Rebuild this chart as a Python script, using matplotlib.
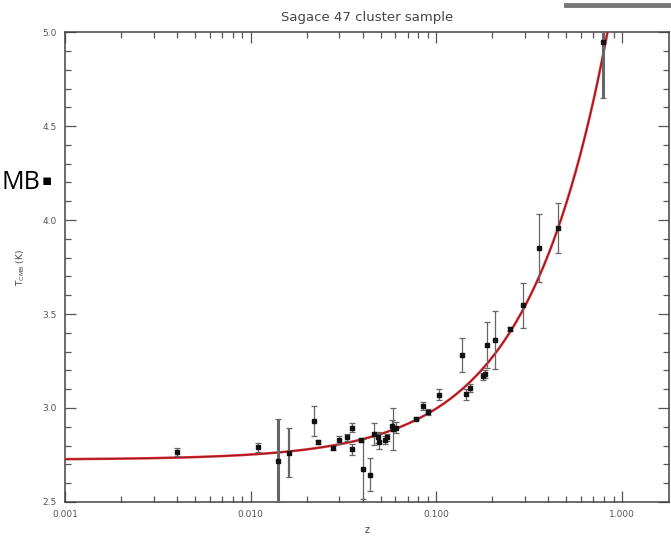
import numpy as np
import matplotlib.pyplot as plt
from matplotlib.ticker import FixedLocator, MultipleLocator, LogLocator, NullFormatter

# cluster redshifts, T_CMB values and 1-sigma errors
z = [0.00403, 0.0110, 0.0141, 0.0160, 0.0220, 0.0230, 0.0279, 0.0300,
     0.0329, 0.0350, 0.0350, 0.0391, 0.0404, 0.0439, 0.0461, 0.0483,
     0.0490, 0.0540, 0.0530, 0.0575, 0.0586, 0.0605, 0.0776, 0.0849,
     0.0903, 0.1035, 0.1377, 0.1442, 0.1517, 0.1788, 0.1830, 0.1879,
     0.2068, 0.2494, 0.2910, 0.3590, 0.4540, 0.7930]
T = [2.765, 2.790, 2.720, 2.763, 2.930, 2.817, 2.786, 2.830,
     2.844, 2.896, 2.780, 2.830, 2.677, 2.646, 2.861, 2.844,
     2.820, 2.844, 2.830, 2.905, 2.888, 2.896, 2.944, 3.010,
     2.980, 3.070, 3.283, 3.072, 3.107, 3.168, 3.180, 3.335,
     3.360, 3.420, 3.546, 3.853, 3.958, 4.950]
T_err = [0.02, 0.025, 0.22, 0.13, 0.08, 0.01, 0.01, 0.02,
         0.02, 0.025, 0.03, 0.01, 0.16, 0.09, 0.06, 0.03,
         0.04, 0.02, 0.02, 0.03, 0.11, 0.03, 0.01, 0.02,
         0.015, 0.03, 0.09, 0.03, 0.02, 0.02, 0.02, 0.12,
         0.155, 0.01, 0.12, 0.18, 0.135, 0.30]

T0 = 2.725  # standard adiabatic scaling T0*(1+z)

x_ticks = [0.001, 0.01, 0.1, 1.0]
x_labels = ["0.001", "0.010", "0.100", "1.000"]
y_ticks = [2.5, 3.0, 3.5, 4.0, 4.5, 5.0]

fig = plt.figure(figsize=(6.71, 5.45), dpi=100)
ax = fig.add_axes([0.097, 0.079, 0.9, 0.862])

zz = np.logspace(-3, np.log10(1.8), 400)
ax.plot(zz, T0 * (1 + zz), color="#d8262e", lw=1.8, zorder=3)
ax.plot(zz, T0 * (1 + zz), color="#6a1418", lw=0.4, zorder=4)

for zi, ti, ei in zip(z, T, T_err):
    lw = 2.2 if ei > 0.2 else (1.6 if ei > 0.12 and zi < 0.02 else 0.9)
    ax.errorbar(zi, ti, yerr=ei, fmt="s", ms=2.6, color="#111111",
                ecolor="#666666", elinewidth=lw, capsize=2.5, capthick=0.9,
                zorder=5)

ax.set_xscale("log")
ax.set_xlim(0.001, 1.79)
ax.set_ylim(2.5, 5.0)

ax.xaxis.set_major_locator(FixedLocator(x_ticks))
ax.set_xticklabels(x_labels)
ax.xaxis.set_minor_locator(LogLocator(base=10, subs=np.arange(2, 10)))
ax.xaxis.set_minor_formatter(NullFormatter())
ax.yaxis.set_major_locator(FixedLocator(y_ticks))
ax.yaxis.set_minor_locator(MultipleLocator(0.1))
ax.set_yticklabels([f"{v:.1f}" for v in y_ticks])

ax.tick_params(which="both", direction="in", top=True, right=True,
               colors="#555555", labelsize=6.5, width=0.9)
ax.tick_params(which="major", length=8, pad=6)
ax.tick_params(which="minor", length=4)
for s in ax.spines.values():
    s.set_color("#444444")
    s.set_linewidth(1.1)

ax.set_title("Sagace 47 cluster sample", fontsize=9.5, color="#444444", pad=8)
ax.set_xlabel("z", fontsize=7, color="#444444", labelpad=4)
ax.set_ylabel(r"T$_{\rm CMB}$ (K)", fontsize=6.5, color="#444444", labelpad=11)

# slide remnants around the figure
fig.text(0.002, 0.666, "MB", fontsize=18, family="Open Sans", color="black",
         ha="left", va="center")
fig.text(0.062, 0.668, "\u25aa", fontsize=11, color="black", ha="left", va="center")
fig.add_artist(plt.Line2D([0.843, 1.0], [0.991, 0.991], color="#777777", lw=3.5))

fig.savefig("out.png", dpi=100)
